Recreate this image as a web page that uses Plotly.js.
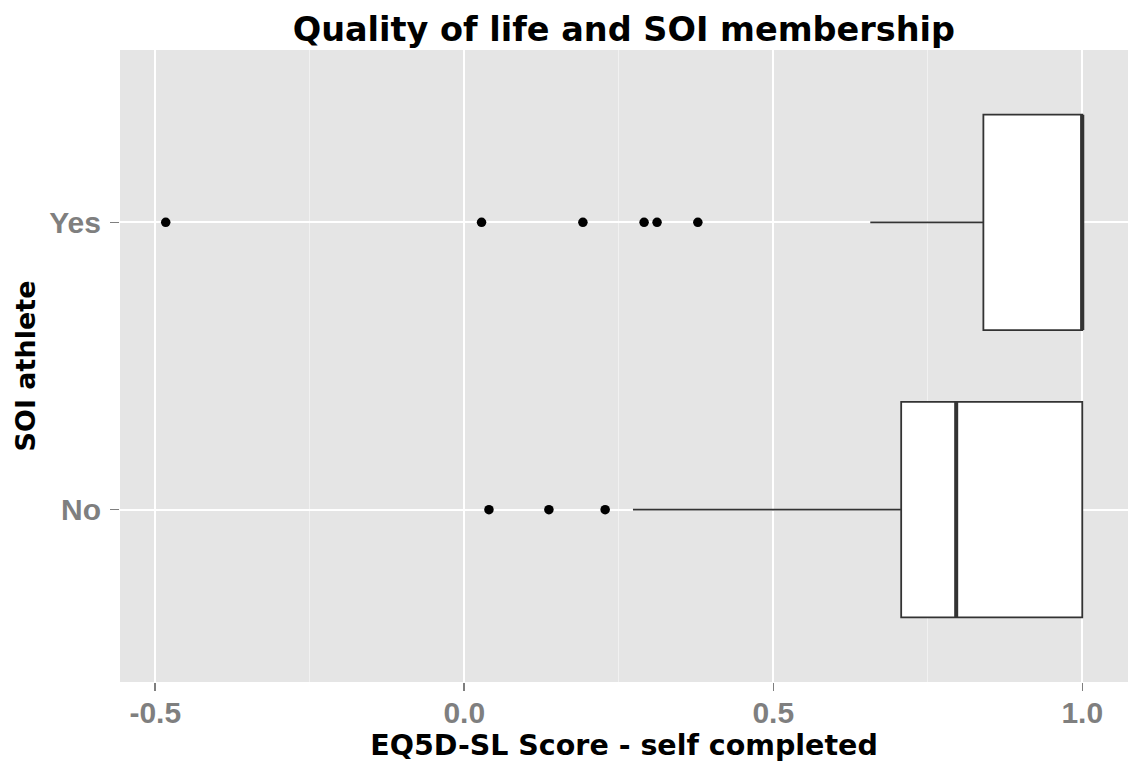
<!DOCTYPE html>
<html>
<head>
<meta charset="utf-8">
<script src="https://cdn.plot.ly/plotly-3.0.1.min.js"></script>
<style>html,body{margin:0;padding:0;background:#fff;}#chart{width:1129px;height:764px;}</style>
</head>
<body>
<div id="chart"></div>
<script>
// Data
const categories = ["No", "Yes"];
const q1Values = [0.707, 0.840];
const medianValues = [0.796, 1.0];
const q3Values = [1.0, 1.0];
const lowerWhisker = [0.273, 0.657];
const upperWhisker = [1.0, 1.0];
const outliersNo = [0.040, 0.137, 0.228];
const outliersYes = [-0.483, 0.028, 0.192, 0.291, 0.312, 0.378];
const xTickVals = [-0.5, 0.0, 0.5, 1.0];
const xTickText = ["-0.5", "0.0", "0.5", "1.0"];

const boxWidth = 0.75;
const catPos = categories.map((c, i) => i);
const TICKFONT = "Liberation Sans, Arial, Helvetica, sans-serif";
const TITLEFONT = "DejaVu Sans, Liberation Sans, Arial, sans-serif";

const boxTrace = {
  type: "box",
  orientation: "h",
  y: catPos,
  q1: q1Values,
  median: medianValues,
  q3: q3Values,
  lowerfence: lowerWhisker,
  upperfence: upperWhisker,
  width: boxWidth,
  whiskerwidth: 0,
  boxpoints: false,
  fillcolor: "#ffffff",
  line: {color: "#333333", width: 1.8},
  hoverinfo: "skip",
  showlegend: false
};

// thick median lines (ggplot fatten)
const medX = [], medY = [];
medianValues.forEach((m, i) => {
  medX.push(m, m, null);
  medY.push(catPos[i] - boxWidth / 2, catPos[i] + boxWidth / 2, null);
});
const medianTrace = {
  type: "scatter", mode: "lines", x: medX, y: medY,
  line: {color: "#333333", width: 4}, hoverinfo: "skip", showlegend: false
};

const outX = outliersNo.concat(outliersYes);
const outY = outliersNo.map(() => catPos[0]).concat(outliersYes.map(() => catPos[1]));
const outlierTrace = {
  type: "scatter", mode: "markers", x: outX, y: outY,
  marker: {color: "#000000", size: 9.5}, hoverinfo: "skip", showlegend: false
};

const layout = {
  width: 1129, height: 764,
  margin: {l: 120, r: 1, t: 50, b: 82},
  paper_bgcolor: "#ffffff",
  plot_bgcolor: "#e5e5e5",
  showlegend: false,
  hovermode: false,
  title: {
    text: "Quality of life and SOI membership",
    font: {family: TITLEFONT, size: 33.5, color: "#000000", weight: "bold"},
    x: 0.5526, xanchor: "center", y: 0.962, yanchor: "middle"
  },
  xaxis: {
    range: [-0.557, 1.074],
    tickvals: xTickVals, ticktext: xTickText,
    ticks: "outside", ticklen: 8, tickwidth: 1.5, tickcolor: "#7f7f7f",
    ticklabelstandoff: -4,
    tickfont: {family: TICKFONT, size: 30, color: "#7f7f7f", weight: "bold"},
    showgrid: true, gridcolor: "#ffffff", gridwidth: 1.8,
    minor: {tick0: 0.25, dtick: 0.5, showgrid: true, gridcolor: "#f2f2f2", gridwidth: 0.9, ticks: ""},
    zeroline: false, showline: false,
    title: {text: "EQ5D-SL Score - self completed", font: {family: TITLEFONT, size: 28.5, color: "#000000", weight: "bold"}, standoff: 2}
  },
  yaxis: {
    range: [-0.6, 1.6],
    tickvals: catPos, ticktext: categories,
    ticks: "outside", ticklen: 9, tickwidth: 1.5, tickcolor: "#7f7f7f",
    ticklabelstandoff: 3,
    tickfont: {family: TICKFONT, size: 30, color: "#7f7f7f", weight: "bold"},
    showgrid: true, gridcolor: "#ffffff", gridwidth: 1.8,
    zeroline: false, showline: false,
    title: {text: "SOI athlete", font: {family: TITLEFONT, size: 27, color: "#000000", weight: "bold"}, standoff: 5}
  }
};

Plotly.newPlot("chart", [boxTrace, medianTrace, outlierTrace], layout, {staticPlot: true, displayModeBar: false});
</script>
</body>
</html>
